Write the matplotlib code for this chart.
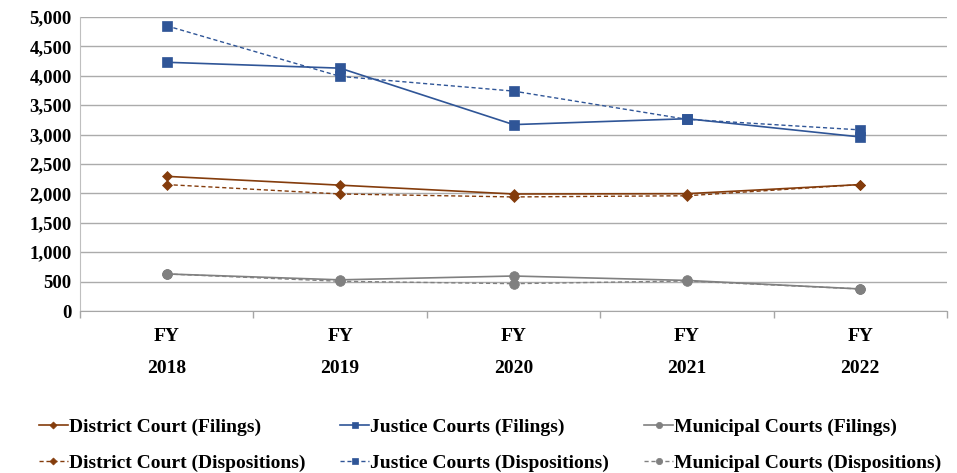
import numpy as np
import matplotlib.pyplot as plt

# chart data
years = ["FY\n2018", "FY\n2019", "FY\n2020", "FY\n2021", "FY\n2022"]
district_filings = [2290, 2140, 1990, 1995, 2150]
district_dispositions = [2150, 1990, 1940, 1960, 2150]
justice_filings = [4230, 4130, 3170, 3270, 2960]
justice_dispositions = [4850, 3990, 3740, 3260, 3080]
municipal_filings = [630, 530, 595, 520, 375]
municipal_dispositions = [630, 505, 465, 510, 375]
y_ticks = [0, 500, 1000, 1500, 2000, 2500, 3000, 3500, 4000, 4500, 5000]

BROWN = "#843C0C"
BLUE = "#2F5597"
GREY = "#808080"

plt.rcParams['font.family'] = ['Liberation Serif', 'DejaVu Serif']
plt.rcParams['font.weight'] = 'bold'

fig = plt.figure(figsize=(9.57, 4.73), dpi=100)
ax = fig.add_axes([80 / 957, 1 - 311 / 473, 867 / 957, 294 / 473])

x = np.arange(len(years))
series = [
    (district_filings, "District Court (Filings)", BROWN, "D", "-", 5.5),
    (justice_filings, "Justice Courts (Filings)", BLUE, "s", "-", 6.5),
    (municipal_filings, "Municipal Courts (Filings)", GREY, "o", "-", 7),
    (district_dispositions, "District Court (Dispositions)", BROWN, "D", "--", 5.5),
    (justice_dispositions, "Justice Courts (Dispositions)", BLUE, "s", "--", 6.5),
    (municipal_dispositions, "Municipal Courts (Dispositions)", GREY, "o", "--", 7),
]
for vals, label, color, marker, ls, ms in series:
    ax.plot(x, vals, color=color, linestyle=ls, linewidth=1.2 if ls == "-" else 1.0,
            marker=marker, markersize=ms, markeredgewidth=0.5, label=label,
            dashes=(3, 2) if ls == "--" else (None, None), zorder=3)

ax.set_xlim(-0.5, len(years) - 0.5)
ax.set_ylim(0, 5000)
ax.set_yticks(y_ticks)
ax.set_yticklabels([f"{v:,}" for v in y_ticks], fontsize=13.5, fontweight='bold')
ax.set_xticks(x)
ax.set_xticklabels(years, fontsize=14, fontweight='bold', linespacing=2.2)
ax.set_xticks(np.arange(-0.5, len(years), 1.0), minor=True)
ax.tick_params(axis='x', which='major', length=0, pad=12)
ax.tick_params(axis='x', which='minor', length=5, color="#A6A6A6", width=1)
ax.tick_params(axis='y', length=0, pad=6)

ax.grid(axis='y', color="#ABABAB", linewidth=1.0)
ax.set_axisbelow(True)
for side in ['top', 'right']:
    ax.spines[side].set_visible(False)
ax.spines['left'].set_color("#BFBFBF")
ax.spines['bottom'].set_color("#A6A6A6")

handles, labels = ax.get_legend_handles_labels()
# reorder so rows read filings / dispositions with ncol=3
order = [0, 3, 1, 4, 2, 5]
leg = fig.legend([handles[i] for i in order], [labels[i] for i in order],
                 loc='upper left', bbox_to_anchor=(0.022, 0.153), ncol=3,
                 frameon=False, fontsize=14, handlelength=1.5, handletextpad=0.05,
                 columnspacing=1.8, labelspacing=0.95, markerscale=0.65)
for t in leg.get_texts():
    t.set_fontweight('bold')

fig.savefig("out.png", dpi=100)
